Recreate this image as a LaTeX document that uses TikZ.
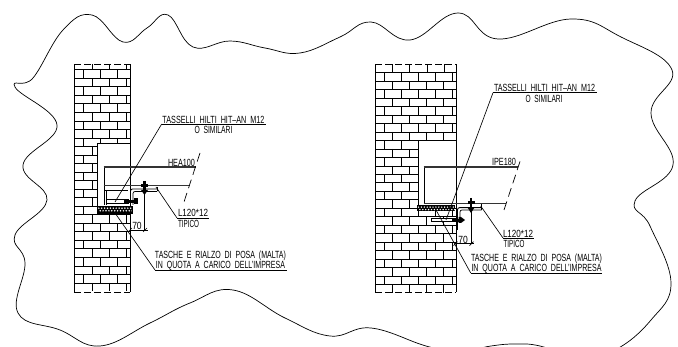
\documentclass[tikz,border=0pt]{standalone}
\usepackage{fontspec}
\usepackage{graphicx}
\setmainfont{Liberation Sans}
\newcommand{\fitlab}[2]{\resizebox{#1pt}{\height}{\fontsize{10.4}{11}\selectfont #2}}
\tikzset{
  x=1pt,y=-1pt,
  thinline/.style={line width=0.7pt,black},
  wallline/.style={line width=0.85pt,black},
  flange/.style={line width=1.6pt,black!80},
  brk/.style={dash pattern=on 7pt off 3pt,line width=0.7pt},
  breakline/.style={line width=0.7pt,dash pattern=on 9pt off 5pt},
  lab/.style={inner sep=0pt,outer sep=0pt,text=black,anchor=center},
  lead/.style={line width=0.65pt,black},
  under/.style={line width=0.9pt,black}
}
\begin{document}
\begin{tikzpicture}
\useasboundingbox (0,0) rectangle (678,347);
\fill[white] (0,0) rectangle (678,347);
% cloud outline
\begin{scope}
\clip (0,0) rectangle (678,347);
\draw[line width=0.7pt] plot[smooth cycle,tension=0.7] coordinates {
(15,87)(33,78)(63,30)(92,15)(123,42)(147,28)(168,15)(193,47)(230,41)(265,48)(300,53)(340,37)
(371,22)(410,40)(458,13)(498,39)(571,19)(621,37)(672,70)(651,113)(673,165)(635,201)(650,226)(671,283)(651,320)(615,350)
(578,358)(540,346)(515,344)(491,346)(458,352)(426,346)(371,328)(330,336)(285,318)(233,290)(190,303)(150,323)(100,346)(60,330)(18,313)(25,263)(15,235)(47,200)(23,165)(57,125)};
\end{scope}
% ---------- left wall
\foreach \k in {0,...,25}{
  \pgfmathsetmacro\yy{69.7+8.53*\k}
  \pgfmathsetmacro\yn{\yy+8.53}
  \draw[thinline] (74,\yy) -- (130,\yy);
  \pgfmathsetmacro\dx{mod(\k,2)==0?0:9}
  \foreach \xx in {83,100,117}{
    \draw[thinline] (\xx+\dx,\yy) -- (\xx+\dx,\yn);
  }
}
\foreach \xx in {92,109,126}{\draw[thinline] (\xx,64.5) -- (\xx,69.7);}
\draw[wallline] (74,64.5) -- (74,292);
\draw[brk] (74,64.5) -- (130,64.5);
\draw[brk] (74,292) -- (130,292);
\fill[white] (97,143) rectangle (129.6,206);
\draw[wallline] (130,64.5) -- (130,292);
\draw[wallline] (130,143) -- (97,143) -- (97,206);
% left mortar
\fill[black] (97,206) rectangle (132,213);
\foreach \a in {0,...,11}{
  \fill[white] (98.8+\a*2.9,208.2) circle (0.85pt);
  \fill[white] (100.2+\a*2.9,210.8) circle (0.85pt);
}
\draw[line width=0.6pt] (97,206) rectangle (132,213);
% left beam
\draw[line width=0.9pt] (104,205) -- (104,167);
\draw[flange] (103.5,166.8) -- (196,166.8);
\draw[flange] (103.5,185.7) -- (190,185.7);
\draw[thinline] (106.5,190) -- (106.5,205);
\draw[thinline] (104,190) -- (128,190);
\draw[breakline] (200,153) -- (183,205);
% left angle
\draw[line width=0.9pt,rounded corners=2pt] (130.5,205) -- (130.5,189) -- (157,189);
\draw[thinline,rounded corners=2pt] (133,205) -- (133,191.5) -- (157,191.5);
\draw[thinline] (157,187) -- (157,191.5);
% left bolt
\draw[line width=2.4pt] (144.5,181) -- (144.5,193);
\fill (141,184) rectangle (148,187);
\fill (141,190) -- (148,190) -- (144.5,195) -- cycle;
% left anchor
\draw[thinline,fill=white] (106,199.6) rectangle (128,203);
\fill (124,199.6) rectangle (136,203);
\fill (134,198.3) rectangle (138,204);
% left labels
\node[lab] (l1) at (213.5,119.5) {\fitlab{102}{TASSELLI\ \ HILTI\ \ HIT--AN\ \ M12}};
\node[lab] (l2) at (213.5,130) {\fitlab{38}{O\ \ SIMILARI}};
\node[lab] (l3) at (181.5,162.5) {\fitlab{27}{HEA100}};
\node[lab] (l4) at (193,213.2) {\fitlab{30}{L120*12}};
\node[lab] (l5) at (188.5,224) {\fitlab{21}{TIPICO}};
\node[lab] (l6) at (137,225.5) {\fitlab{9.5}{70}};
\node[lab] (l7) at (220.5,256) {\fitlab{131}{TASCHE\ \ E\ \ RIALZO\ \ DI\ \ POSA\ \ (MALTA)}};
\node[lab] (l8) at (220.5,265.8) {\fitlab{129}{IN\ \ QUOTA\ \ A\ \ CARICO\ \ DELL'IMPRESA}};
\coordinate (a1) at (161.7,124);
\coordinate (a2) at (115,202);
\draw[lead] (a2) -- (a1);
\draw[under] (a1) -- (266,124);
\coordinate (b1) at (177,218);
\draw[lead] (156,187) -- (b1);
\draw[under] (b1) -- (209,218);
\coordinate (c1) at (155,270);
\draw[lead] (115,213) -- (c1);
\draw[under] (c1) -- (287,270);
\draw[lead] (144.5,193) -- (144.5,230);
\draw[lead] (130,230) -- (147.5,230);
\draw[lead] (128,232) -- (132,228);
\draw[lead] (143,232) -- (147,228);
% ---------- right wall
\foreach \k in {0,...,25}{
  \pgfmathsetmacro\yy{72.7+8.47*\k}
  \pgfmathsetmacro\yn{\yy+8.47}
  \draw[thinline] (375,\yy) -- (456,\yy);
  \pgfmathsetmacro\dx{mod(\k,2)==0?0:8.2}
  \foreach \xx in {384,401,418,435,452}{
    \pgfmathparse{\xx+\dx<456?1:0}
    \ifnum\pgfmathresult=1
    \draw[thinline] (\xx+\dx,\yy) -- (\xx+\dx,\yn);
    \fi
  }
}
\foreach \xx in {392,409,427,444}{\draw[thinline] (\xx,64.5) -- (\xx,72.7);}
\draw[wallline] (375,64.5) -- (375,292);
\draw[brk] (375,64.5) -- (456,64.5);
\draw[brk] (375,292) -- (456,292);
\fill[white] (418,140.5) rectangle (455.6,205.3);
\draw[wallline] (456,64.5) -- (456,292);
\draw[wallline] (456,140.5) -- (418,140.5) -- (418,205.3);
% right mortar
\fill[black] (417,205.3) rectangle (455,211.5);
\foreach \a in {0,...,12}{
  \fill[white] (418.5+\a*2.9,207.1) circle (0.8pt);
  \fill[white] (419.9+\a*2.9,209.6) circle (0.8pt);
}
% right beam
\draw[line width=0.9pt] (424,204) -- (424,167);
\draw[flange] (423.5,166.8) -- (518,166.8);
\draw[flange] (423.5,203.7) -- (506,203.7);
\draw[breakline] (520,161.5) -- (504,210);
% right angle
\draw[line width=0.9pt,rounded corners=2pt] (457.5,230) -- (457.5,207.7) -- (481.5,207.7);
\draw[thinline,rounded corners=2pt] (460,222) -- (460,210) -- (481.5,210);
\draw[thinline] (481.5,204.5) -- (481.5,210);
% right bolt
\draw[line width=2.4pt] (471,198) -- (471,211);
\fill (467.5,201) rectangle (474.5,204);
\fill (467.5,207.5) -- (474.5,207.5) -- (471,213) -- cycle;
% right anchor
\draw[thinline,fill=white] (431.7,218.6) rectangle (456,221.6);
\fill (452,218.6) rectangle (461,221.6);
\fill (458.5,217) -- (461,217) -- (465,220) -- (461,223) -- (458.5,223) -- cycle;
% right labels
\node[lab] (r1) at (544.5,87.8) {\fitlab{101}{TASSELLI\ \ HILTI\ \ HIT--AN\ \ M12}};
\node[lab] (r2) at (544,98.5) {\fitlab{37}{O\ \ SIMILARI}};
\node[lab] (r3) at (504,162) {\fitlab{24}{IPE180}};
\node[lab] (r4) at (518,234) {\fitlab{30}{L120*12}};
\node[lab] (r5) at (514,244.3) {\fitlab{21}{TIPICO}};
\node[lab] (r6) at (463,239.8) {\fitlab{9.5}{70}};
\node[lab] (r7) at (536.5,259.3) {\fitlab{131}{TASCHE\ \ E\ \ RIALZO\ \ DI\ \ POSA\ \ (MALTA)}};
\node[lab] (r8) at (536.5,269) {\fitlab{130}{IN\ \ QUOTA\ \ A\ \ CARICO\ \ DELL'IMPRESA}};
\coordinate (d1) at (493,92.7);
\coordinate (d2) at (446,220);
\draw[lead] (d2) -- (d1);
\draw[under] (d1) -- (597,92.7);
\coordinate (e1) at (503,238);
\draw[lead] (480.7,206) -- (e1);
\draw[under] (e1) -- (534,238);
\coordinate (f1) at (470.7,273);
\draw[lead] (436,210) -- (f1);
\draw[under] (f1) -- (602,273);
\draw[lead] (471,212) -- (471,243.7);
\draw[lead] (455,243.7) -- (473.5,243.7);
\draw[lead] (453.5,245.7) -- (457.5,241.7);
\draw[lead] (469.5,245.7) -- (473.5,241.7);
\end{tikzpicture}
\end{document}
